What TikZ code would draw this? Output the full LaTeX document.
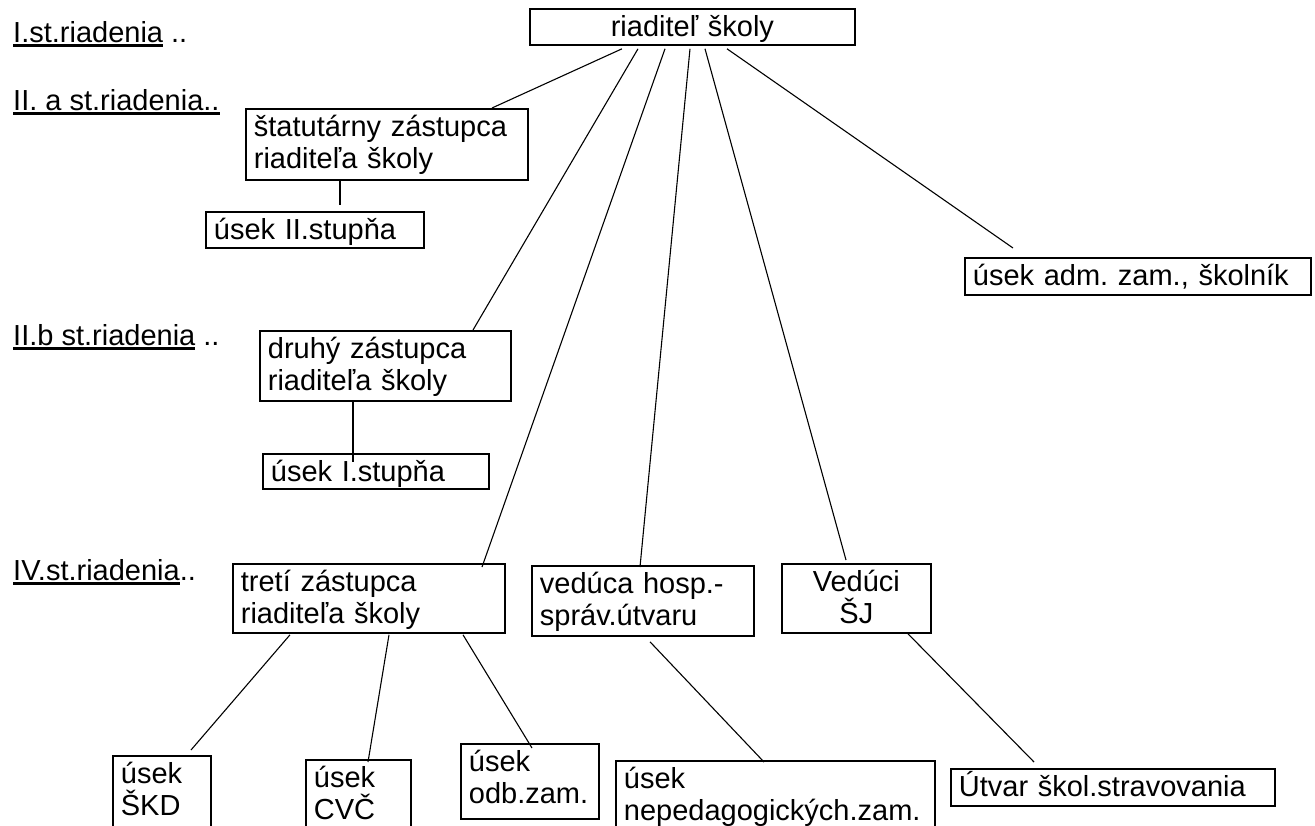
\documentclass[tikz,border=0pt]{standalone}
\usepackage{fontspec}
\setmainfont{Liberation Sans}
\usetikzlibrary{positioning}
\frenchspacing
\newcommand{\lvlul}[1]{\setbox0\hbox{#1}\rlap{\rule[-4.5pt]{\wd0}{3pt}}\box0\relax}

\begin{document}
\begin{tikzpicture}[
  x=1pt, y=-1pt,
  every node/.style={font=\fontsize{29}{31.5}\selectfont},
  unit/.style={draw, line width=1.8pt, anchor=north west, inner xsep=8pt,
    inner ysep=0pt, text height=28pt, align=left},
  lvl/.style={anchor=base west, inner sep=0pt},
  link/.style={line width=1.1pt}
]
  \clip (0,0) rectangle (1315,825);

  % Levels of management
  \node[lvl] (lvlI)   at (13,42)  {\lvlul{I.st.riadenia} ..};
  \node[lvl] (lvlIIa) at (13,110) {\lvlul{II. a st.riadenia..}};
  \node[lvl] (lvlIIb) at (13,345) {\lvlul{II.b st.riadenia} ..};
  \node[lvl] (lvlIV)  at (13,580) {\lvlul{IV.st.riadenia}..};

  % Units
  \node[unit, align=center, text width=309pt, text depth=8pt] (dir) at (529,8) {riaditeľ školy};
  \node[unit, text width=266pt, text depth=43pt] (stat) at (245,108) {štatutárny zástupca\\riaditeľa školy};
  \node[unit, text width=202pt, text depth=8pt] (st2) at (205,211) {úsek II.stupňa};
  \node[unit, text width=330pt, text depth=9pt] (adm) at (964,257) {úsek adm. zam., školník};
  \node[unit, text width=235pt, text depth=42pt] (druhy) at (259,330) {druhý zástupca\\riaditeľa školy};
  \node[unit, text width=210pt, text depth=7pt] (st1) at (262,453) {úsek I.stupňa};
  \node[unit, text width=256pt, text depth=41pt] (treti) at (232,563) {tretí zástupca\\riaditeľa školy};
  \node[unit, text width=206pt, text depth=42pt] (hosp) at (531,565) {vedúca hosp.-\\správ.útvaru};
  \node[unit, align=center, text width=133pt, text depth=41pt] (sj) at (781,563) {Vedúci\\ŠJ};
  \node[unit, text width=82pt, text depth=80pt] (skd) at (112,755) {úsek\\ŠKD};
  \node[unit, text width=89pt, text depth=80pt] (cvc) at (305,759) {úsek\\CVČ};
  \node[unit, text width=122pt, text depth=47pt] (odb) at (460,743) {úsek\\odb.zam.};
  \node[unit, text width=303pt, text depth=80pt] (neped) at (615,760) {úsek\\nepedagogických.zam.};
  \node[unit, text width=308pt, text depth=9pt] (utvar) at (950,768) {Útvar škol.stravovania};

  % Links from the director
  \draw[link] ([xshift=93pt,yshift=-3pt]dir.south west) -- ([xshift=247pt]stat.north west);
  \draw[link] ([xshift=109pt,yshift=-3pt]dir.south west) -- ([xshift=214pt]druhy.north west);
  \draw[link] ([xshift=136pt,yshift=-3pt]dir.south west) -- ([xshift=250pt,yshift=-4pt]treti.north west);
  \draw[link] ([xshift=161pt,yshift=-3pt]dir.south west) -- ([xshift=109pt,yshift=-2pt]hosp.north west);
  \draw[link] ([xshift=176pt,yshift=-3pt]dir.south west) -- ([xshift=65pt,yshift=3pt]sj.north west);
  \draw[link] ([xshift=198pt,yshift=-3pt]dir.south west) -- ([xshift=49pt,yshift=9pt]adm.north west);

  % Links to the sections
  \draw[link] ([xshift=95pt]stat.south west) -- ([xshift=135pt,yshift=6pt]st2.north west);
  \draw[link] ([xshift=94pt]druhy.south west) -- ([xshift=91pt,yshift=-9pt]st1.north west);
  \draw[link] ([xshift=58pt,yshift=-1pt]treti.south west) -- ([xshift=79pt,yshift=5pt]skd.north west);
  \draw[link] ([xshift=157pt,yshift=-1pt]treti.south west) -- ([xshift=63pt,yshift=-3pt]cvc.north west);
  \draw[link] ([xshift=231pt,yshift=-1pt]treti.south west) -- ([xshift=72pt,yshift=-5pt]odb.north west);
  \draw[link] ([xshift=119pt,yshift=-5pt]hosp.south west) -- ([xshift=149pt,yshift=-2pt]neped.north west);
  \draw[link] ([xshift=127pt]sj.south west) -- ([xshift=84pt,yshift=6pt]utvar.north west);
\end{tikzpicture}
\end{document}
